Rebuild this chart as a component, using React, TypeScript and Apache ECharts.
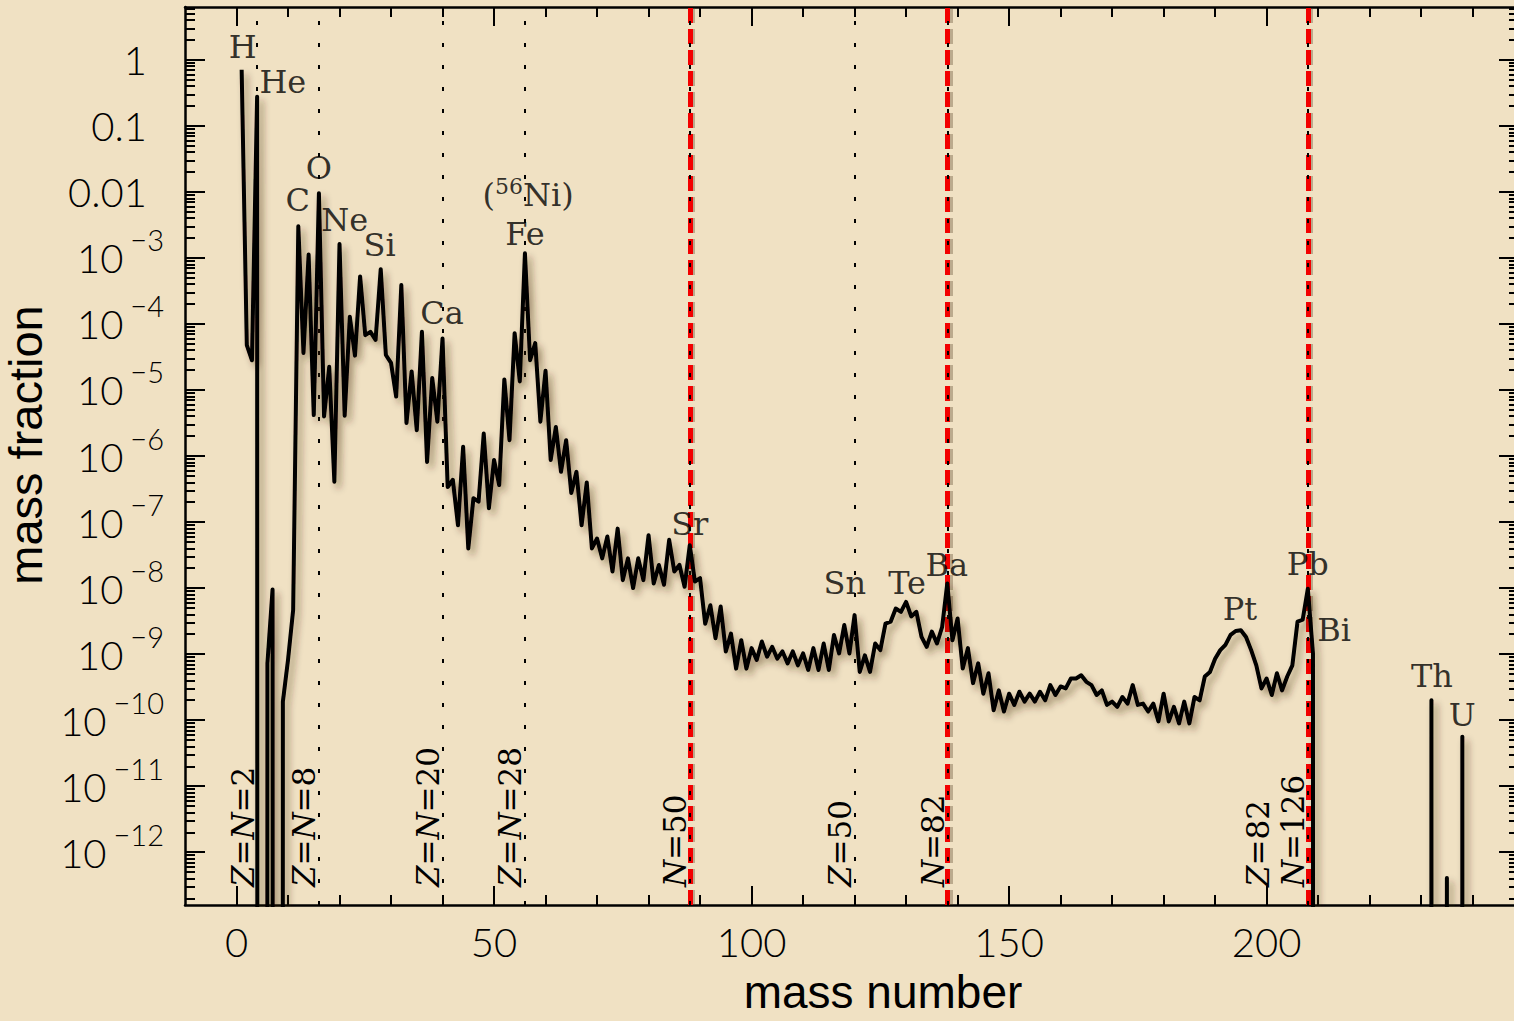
import React, { useEffect, useRef } from "react";
import * as echarts from "echarts";

// log10(mass fraction) for mass numbers A = 1 .. 209 (null = no stable isotope)
const logMassFractionA1to209: (number | null)[] = [
  -0.15, -4.32, -4.55, -0.56, null, -9.14, -8.02, null, -9.72, -9.09,
  -8.33, -2.52, -4.44, -2.95, -5.38, -2.02, -5.40, -4.65, -6.39, -2.79,
  -5.39, -3.89, -4.48, -3.28, -4.17, -4.12, -4.24, -3.17, -4.47, -4.59,
  -5.10, -3.41, -5.50, -4.72, -5.61, -4.12, -6.09, -4.82, -5.48, -4.22,
  -6.47, -6.36, -7.05, -5.86, -7.40, -6.64, -6.69, -5.66, -6.79, -6.06,
  -6.44, -4.84, -5.76, -4.14, -4.87, -2.93, -4.55, -4.29, -5.48, -4.71,
  -6.06, -5.56, -6.24, -5.76, -6.56, -6.24, -7.05, -6.40, -7.40, -7.25,
  -7.55, -7.22, -7.75, -7.10, -7.88, -7.55, -8.00, -7.55, -7.88, -7.20,
  -7.93, -7.65, -7.95, -7.27, -7.75, -7.65, -7.98, -7.35, -7.90, -7.85,
  -8.54, -8.26, -8.76, -8.28, -8.96, -8.69, -9.22, -8.79, -9.22, -8.91,
  -9.09, -8.81, -9.04, -8.89, -9.07, -8.96, -9.14, -8.96, -9.17, -8.99,
  -9.24, -8.91, -9.24, -8.84, -9.24, -8.71, -8.99, -8.56, -8.99, -8.41,
  -9.27, -9.02, -9.27, -8.84, -8.94, -8.54, -8.51, -8.31, -8.36, -8.21,
  -8.43, -8.36, -8.74, -8.89, -8.66, -8.84, -8.59, -7.93, -8.79, -8.46,
  -9.22, -8.91, -9.44, -9.14, -9.60, -9.29, -9.85, -9.55, -9.87, -9.60,
  -9.77, -9.57, -9.72, -9.60, -9.72, -9.57, -9.70, -9.47, -9.62, -9.49,
  -9.52, -9.37, -9.37, -9.32, -9.42, -9.47, -9.62, -9.55, -9.77, -9.72,
  -9.80, -9.65, -9.75, -9.47, -9.77, -9.75, -9.87, -9.75, -10.02, -9.60,
  -10.02, -9.80, -10.05, -9.72, -10.05, -9.65, -9.70, -9.34, -9.27, -9.07,
  -8.94, -8.86, -8.71, -8.65, -8.64, -8.74, -8.94, -9.17, -9.52, -9.37,
  -9.62, -9.29, -9.55, -9.34, -9.17, -8.51, -8.48, -8.01, -8.99,
];

// long-lived actinides
const actinideA = [232, 235, 238];
const actinideLog = [-9.7, -12.39, -10.25];
const LAST_A = 240;
const ABSENT = -300; // far below the axis: the line plunges out of view

// element annotations (text, mass number, log10 position)
const elementText = ["H", "He", "C", "O", "Ne", "Si", "Ca", "{n|(}{sup|56}{n|Ni)}", "Fe", "Sr", "Sn", "Te", "Ba", "Pt", "Pb", "Bi", "Th", "U"];
const elementA = [1.2, 9.0, 11.9, 16.0, 21.0, 27.8, 39.9, 56.6, 56.0, 88.0, 118.1, 130.2, 137.9, 194.8, 208.0, 213.1, 232.1, 238.0];
const elementLog = [0.2, -0.33, -2.12, -1.64, -2.42, -2.8, -3.83, -2.02, -2.64, -7.03, -7.92, -7.92, -7.65, -8.32, -7.64, -8.64, -9.33, -9.92];

// magic-number lines
const shellA = [4, 16, 40, 56, 88, 120, 138, 208];
const shellText = [
  "{i|Z}={i|N}=2",
  "{i|Z}={i|N}=8",
  "{i|Z}={i|N}=20",
  "{i|Z}={i|N}=28",
  "{i|N}=50",
  "{i|Z}=50",
  "{i|N}=82",
  "{i|Z}=82\n{i|N}=126",
];
const neutronMagicA = [88, 138, 208];
const redShadowOffsetA = 0.55;

// axes
const xMin = -10;
const xMax = 249;
const xMajorTicks = [0, 50, 100, 150, 200];
const xMinorTicks = [10, 20, 30, 40, 60, 70, 80, 90, 110, 120, 130, 140, 160, 170, 180, 190, 210, 220, 230, 240];
const yMin = -12.8;
const yMax = 0.8;
const yDecades = [0, -1, -2, -3, -4, -5, -6, -7, -8, -9, -10, -11, -12];
const yPlainLabels: Record<string, string> = { "0": "1", "-1": "0.1", "-2": "0.01" };

const SERIF = "'DejaVu Serif', serif";
const SANS = "Lato, 'Liberation Sans', sans-serif";
const NAME_FONT = "'Liberation Sans', Arial, sans-serif";

function buildLine(): [number, number][] {
  const pts: [number, number][] = [];
  for (let a = 1; a <= LAST_A; a++) {
    let v: number | null = a <= logMassFractionA1to209.length ? logMassFractionA1to209[a - 1] : null;
    const k = actinideA.indexOf(a);
    if (k >= 0) v = actinideLog[k];
    pts.push([a, v == null ? ABSENT : v]);
  }
  return pts;
}

function minorLogTicks(): number[] {
  const out: number[] = [];
  for (let n = -13; n <= 0; n++) {
    for (let k = 2; k <= 9; k++) {
      const v = n + Math.log10(k);
      if (v > yMin && v < yMax) out.push(v);
    }
  }
  return out;
}

const black = "#000";

function xAxisDef(position: "bottom" | "top", major: boolean, showLine: boolean, labels: boolean) {
  return {
    type: "value",
    position,
    min: xMin,
    max: xMax,
    splitLine: { show: false },
    axisLine: { show: showLine, onZero: false, lineStyle: { color: black, width: 2.5 } },
    axisTick: {
      show: true,
      inside: true,
      length: major ? 19 : 10,
      customValues: major ? xMajorTicks : xMinorTicks,
      lineStyle: { color: black, width: 2 },
    },
    axisLabel: labels
      ? {
          show: true,
          customValues: xMajorTicks,
          margin: 17,
          color: black,
          fontFamily: SANS,
          fontWeight: 300,
          fontSize: 40,
        }
      : { show: false },
  };
}

function yAxisDef(position: "left" | "right", major: boolean, showLine: boolean, labels: boolean) {
  return {
    type: "value",
    position,
    min: yMin,
    max: yMax,
    splitLine: { show: false },
    axisLine: { show: showLine, onZero: false, lineStyle: { color: black, width: 2.5 } },
    axisTick: {
      show: true,
      inside: true,
      length: major ? 20 : 10,
      customValues: major ? yDecades : minorLogTicks(),
      lineStyle: { color: black, width: 2 },
    },
    axisLabel: labels
      ? {
          show: true,
          customValues: yDecades,
          margin: 21,
          color: black,
          formatter: (v: number) => {
            const n = Math.round(v);
            const plain = yPlainLabels[String(n)];
            if (plain) return `{p|${plain}}`;
            return `{b|10}{s|\u2212${-n}}`;
          },
          rich: {
            p: { fontFamily: SANS, fontWeight: 300, fontSize: 40, color: black, padding: [0, 17, 0, 0] },
            b: { fontFamily: SANS, fontWeight: 300, fontSize: 40, color: black, padding: [0, 7, 12, 0], verticalAlign: "bottom" },
            s: { fontFamily: SANS, fontWeight: 300, fontSize: 29, color: black, padding: [0, 0, 36, 0], verticalAlign: "bottom" },
          },
        }
      : { show: false },
  };
}

export default function App() {
  const ref = useRef<HTMLDivElement>(null);
  useEffect(() => {
    if (!ref.current) return;
    const chart = echarts.init(ref.current, null, { renderer: "svg" });
    const xA = xAxisDef("bottom", true, true, true) as any;
    xA.name = "mass number";
    xA.nameLocation = "middle";
    xA.nameGap = 64;
    xA.nameTextStyle = { fontFamily: NAME_FONT, fontSize: 46, color: black, padding: [0, 0, 0, 62] };
    const yA = yAxisDef("left", true, true, true) as any;
    yA.name = "mass fraction";
    yA.nameLocation = "middle";
    yA.nameGap = 126;
    yA.nameRotate = 90;
    yA.nameTextStyle = { fontFamily: NAME_FONT, fontSize: 47, color: black, padding: [0, 0, 0, 22] };

    const option: any = {
      animation: false,
      backgroundColor: "#f0e1c3",
      grid: { left: 185, top: 7, width: 1334, height: 898, containLabel: false, outerBoundsMode: "none" },
      xAxis: [
        xA,
        xAxisDef("bottom", false, false, false),
        xAxisDef("top", true, true, false),
        xAxisDef("top", false, false, false),
      ],
      yAxis: [
        yA,
        yAxisDef("left", false, false, false),
        yAxisDef("right", true, false, false),
        yAxisDef("right", false, false, false),
      ],
      series: [
        {
          type: "line",
          data: [],
          silent: true,
          markLine: {
            silent: true,
            z: 1,
            symbol: ["none", "none"],
            label: { show: false },
            lineStyle: { color: "rgba(90,70,40,0.35)", width: 5, type: [15, 6] },
            emphasis: { disabled: true },
            data: neutronMagicA.map((a) => ({ xAxis: a + redShadowOffsetA })),
          },
        },
        {
          type: "line",
          data: [],
          silent: true,
          markLine: {
            silent: true,
            z: 1,
            symbol: ["none", "none"],
            label: { show: false },
            lineStyle: { color: "#f30000", width: 5, type: [15, 6] },
            emphasis: { disabled: true },
            data: neutronMagicA.map((a) => ({ xAxis: a })),
          },
        },
        {
          type: "line",
          data: [],
          silent: true,
          markLine: {
            silent: true,
            z: 2,
            symbol: ["none", "none"],
            lineStyle: { color: black, width: 2, type: [4, 18] },
            emphasis: { disabled: true },
            label: {
              show: true,
              position: "insideStartTop",
              distance: [18, -3],
              color: black,
              fontFamily: SERIF,
              fontSize: 31,
              lineHeight: 35,
              rich: {
                i: { fontFamily: SERIF, fontStyle: "italic", fontSize: 31, color: black },
              },
            },
            data: shellA.map((a, i) => ({ xAxis: a, label: { formatter: shellText[i] } })),
          },
        },
        {
          type: "line",
          data: buildLine(),
          z: 3,
          silent: true,
          clip: true,
          showSymbol: false,
          symbol: "none",
          lineStyle: {
            color: black,
            width: 4,
            join: "round",
            shadowColor: "rgba(60,40,10,0.45)",
            shadowBlur: 7,
            shadowOffsetX: 4,
            shadowOffsetY: 5,
          },
        },
        {
          type: "scatter",
          z: 4,
          silent: true,
          symbolSize: 1,
          itemStyle: { color: "rgba(0,0,0,0)" },
          data: elementText.map((t, i) => ({ name: t, value: [elementA[i], elementLog[i]] })),
          label: {
            show: true,
            position: "inside",
            formatter: (p: any) => p.name,
            color: black,
            fontFamily: SERIF,
            fontSize: 32,
            rich: {
              n: { fontFamily: SERIF, fontSize: 32, color: black, verticalAlign: "bottom" },
              sup: { fontFamily: SERIF, fontSize: 22, color: black, padding: [0, 0, 14, 0], verticalAlign: "bottom" },
            },
          },
        },
      ],
    };
    chart.setOption(option);
    return () => chart.dispose();
  }, []);
  return (
    <div
      ref={ref}
      style={{ position: "fixed", left: 0, top: 0, width: 1514, height: 1021 }}
    />
  );
}
